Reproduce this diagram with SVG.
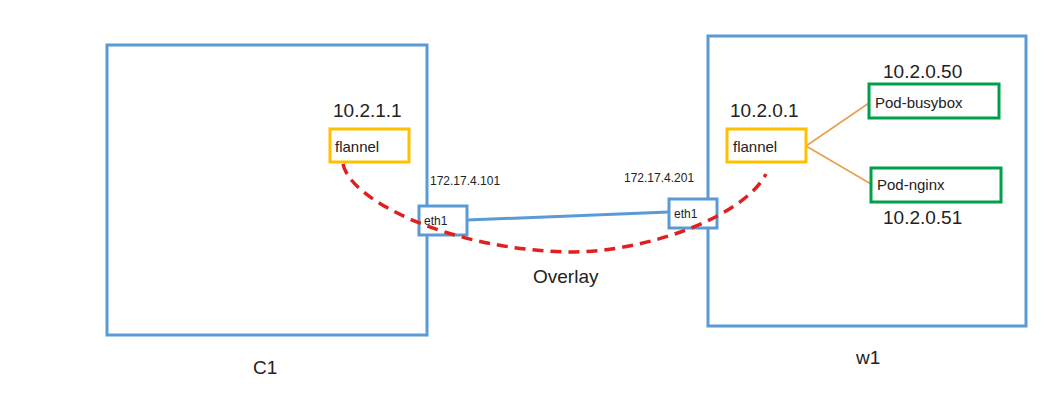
<svg xmlns="http://www.w3.org/2000/svg" width="1049" height="409" viewBox="0 0 1049 409">
<style>
.host{fill:none;stroke:#5B9BD5;stroke-width:3}
.eth{fill:#fff;stroke:#5B9BD5;stroke-width:3}
.fl{fill:#fff;stroke:#FFC000;stroke-width:3}
.pod{fill:#fff;stroke:#00A04A;stroke-width:3}
text{font-family:"Liberation Sans",Arial,sans-serif;fill:#222}
.ip{font-size:19px}
.lbl{font-size:15px}
.sm{font-size:12px}
.big{font-size:19px}
.link{stroke:#5B9BD5;stroke-width:3;fill:none}
.veth{stroke:#E8A050;stroke-width:1.6;fill:none}
.ovl{stroke:#E0201E;stroke-width:3.5;fill:none;stroke-dasharray:11 7}
</style>
<rect width="1049" height="409" fill="#fff"/>
<g id="C1">
<rect class="host" x="107" y="45" width="320" height="290"/>
<text class="big" x="253" y="374">C1</text>
</g>
<g id="w1">
<rect class="host" x="708" y="36" width="318" height="290"/>
<text class="big" x="856" y="364">w1</text>
</g>
<g id="connectors">
<line class="link" x1="467" y1="220" x2="669" y2="212"/>
<line class="veth" x1="806" y1="146" x2="869" y2="103"/>
<line class="veth" x1="806" y1="146" x2="871" y2="184"/>
</g>
<g id="flannel-c1">
<rect class="fl" x="330" y="129" width="79" height="33"/>
<text class="lbl" x="335" y="152">flannel</text>
<text class="ip" x="333" y="117">10.2.1.1</text>
</g>
<g id="eth1-c1">
<rect class="eth" x="419" y="206" width="48" height="29"/>
<text class="sm" x="424" y="225">eth1</text>
<text class="sm" x="430" y="185">172.17.4.101</text>
</g>
<g id="eth1-w1">
<rect class="eth" x="669" y="199" width="48" height="29"/>
<text class="sm" x="674" y="218">eth1</text>
<text class="sm" x="624" y="182">172.17.4.201</text>
</g>
<g id="flannel-w1">
<rect class="fl" x="727" y="129" width="79" height="33"/>
<text class="lbl" x="733" y="152">flannel</text>
<text class="ip" x="730" y="117">10.2.0.1</text>
</g>
<g id="pod-busybox">
<rect class="pod" x="869" y="84" width="130" height="34"/>
<text class="lbl" x="875" y="108">Pod-busybox</text>
<text class="ip" x="883" y="78">10.2.0.50</text>
</g>
<g id="pod-nginx">
<rect class="pod" x="871" y="168" width="130" height="34"/>
<text class="lbl" x="877" y="190">Pod-nginx</text>
<text class="ip" x="883" y="224">10.2.0.51</text>
</g>
<g id="overlay">
<path class="ovl" d="M343,164 C350,200 450,250 570,252 C650,252 745,215 766,174"/>
<text class="big" x="533" y="283">Overlay</text>
</g>
</svg>
